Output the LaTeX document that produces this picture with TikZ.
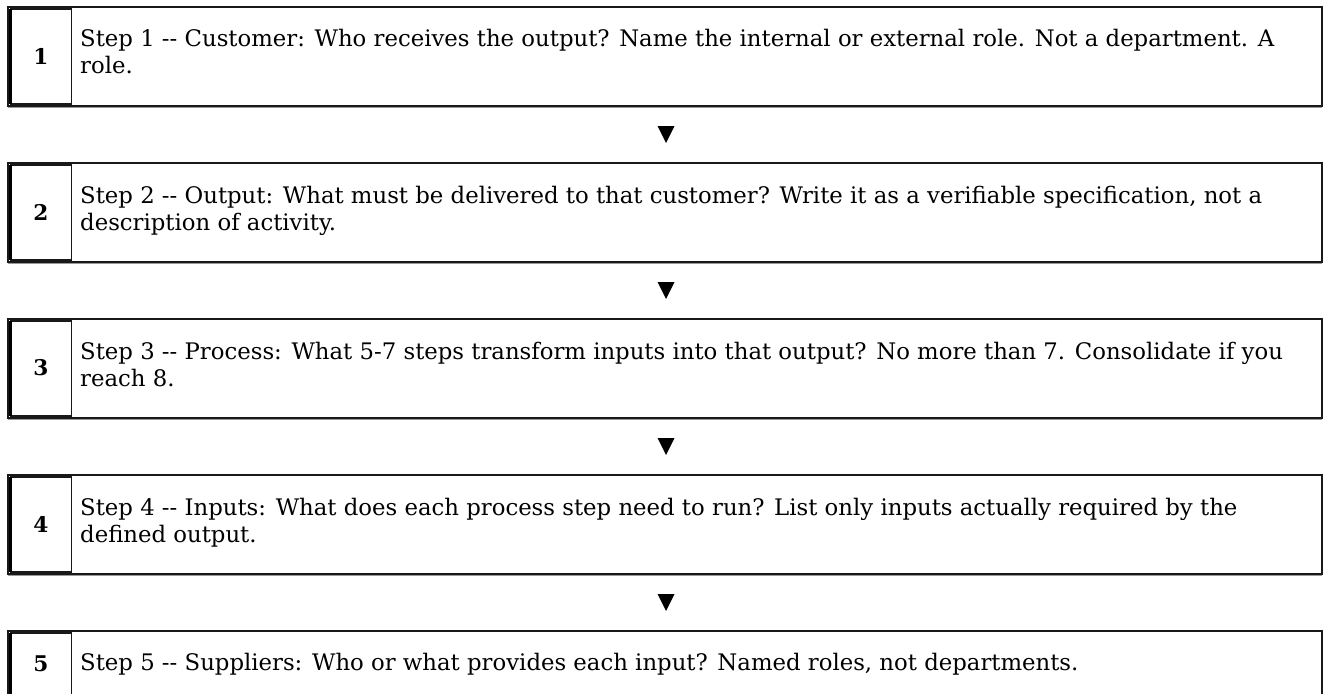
\documentclass[tikz,border=0pt]{standalone}
\usepackage{fontspec}
\setmainfont{DejaVu Serif}
\newsavebox\measbox
\def\fsz{20}
\def\nsz{19}
\AtBeginDocument{%
  \sbox\measbox{\fontsize{20}{27}\selectfont Step 1 -{}- Customer: Who receives the output? Name the internal or external role. Not a department. A}%
  \ifdim\wd\measbox>100pt
    \pgfmathsetmacro\fsz{20*(1194/\wd\measbox)}%
    \pgfmathsetmacro\nsz{0.95*\fsz}%
  \fi
}
\tikzset{
  outerbox/.style={draw=black!90, line width=1.6pt},
  shadowline/.style={draw=black!40, line width=1pt},
  cellbox/.style={draw=black!90, line width=1.1pt},
  cellleft/.style={draw=black, line width=2.6pt},
  numtxt/.style={font=\fontsize{\nsz}{27}\selectfont\bfseries, inner sep=0pt},
  steptxt/.style={font=\fontsize{\fsz}{27}\selectfont, align=left, inner sep=0pt, anchor=base west},
  arrowtri/.style={fill=black}
}
\begin{document}
\begin{tikzpicture}[x=1pt, y=-1pt]
\useasboundingbox (0,0) rectangle (1324,693);
\foreach \t in {7, 163, 319, 475} {
  \draw[outerbox] (8,\t) rectangle (1322,\t+99);
  \draw[shadowline] (8,\t+100.6) -- (1322,\t+100.6);
  \draw[cellbox] (10.5,\t+2) rectangle (71.5,\t+97);
  \draw[cellleft] (10.5,\t+2) -- (10.5,\t+97);
}
\draw[outerbox] (8,631) rectangle (1322,730);
\draw[cellbox] (10.5,633) rectangle (71.5,728);
\draw[cellleft] (10.5,633) -- (10.5,728);

\node[numtxt] (n1) at (41,56) {1};
\node[numtxt] (n2) at (41,212) {2};
\node[numtxt] (n3) at (41,368) {3};
\node[numtxt] (n4) at (41,524) {4};
\node[numtxt] (n5) at (41,663.5) {5};

\node[steptxt] (s1) at (80,74) {Step 1 -{}- Customer: Who receives the output? Name the internal or external role. Not a department. A\\role.};
\node[steptxt] (s2) at (80,230) {Step 2 -{}- Output: What must be delivered to that customer? Write it as a verifiable specification, not a\\description of activity.};
\node[steptxt] (s3) at (80,386) {Step 3 -{}- Process: What 5-7 steps transform inputs into that output? No more than 7. Consolidate if you\\reach 8.};
\node[steptxt] (s4) at (80,542) {Step 4 -{}- Inputs: What does each process step need to run? List only inputs actually required by the\\defined output.};
\node[steptxt] (s5) at (80,670) {Step 5 -{}- Suppliers: Who or what provides each input? Named roles, not departments.};

\foreach \c in {134.5, 290.5, 446.5, 602.5} {
  \fill[arrowtri] (657.5,\c-8.5) -- (674.5,\c-8.5) -- (666,\c+8.5) -- cycle;
}
\end{tikzpicture}
\end{document}
